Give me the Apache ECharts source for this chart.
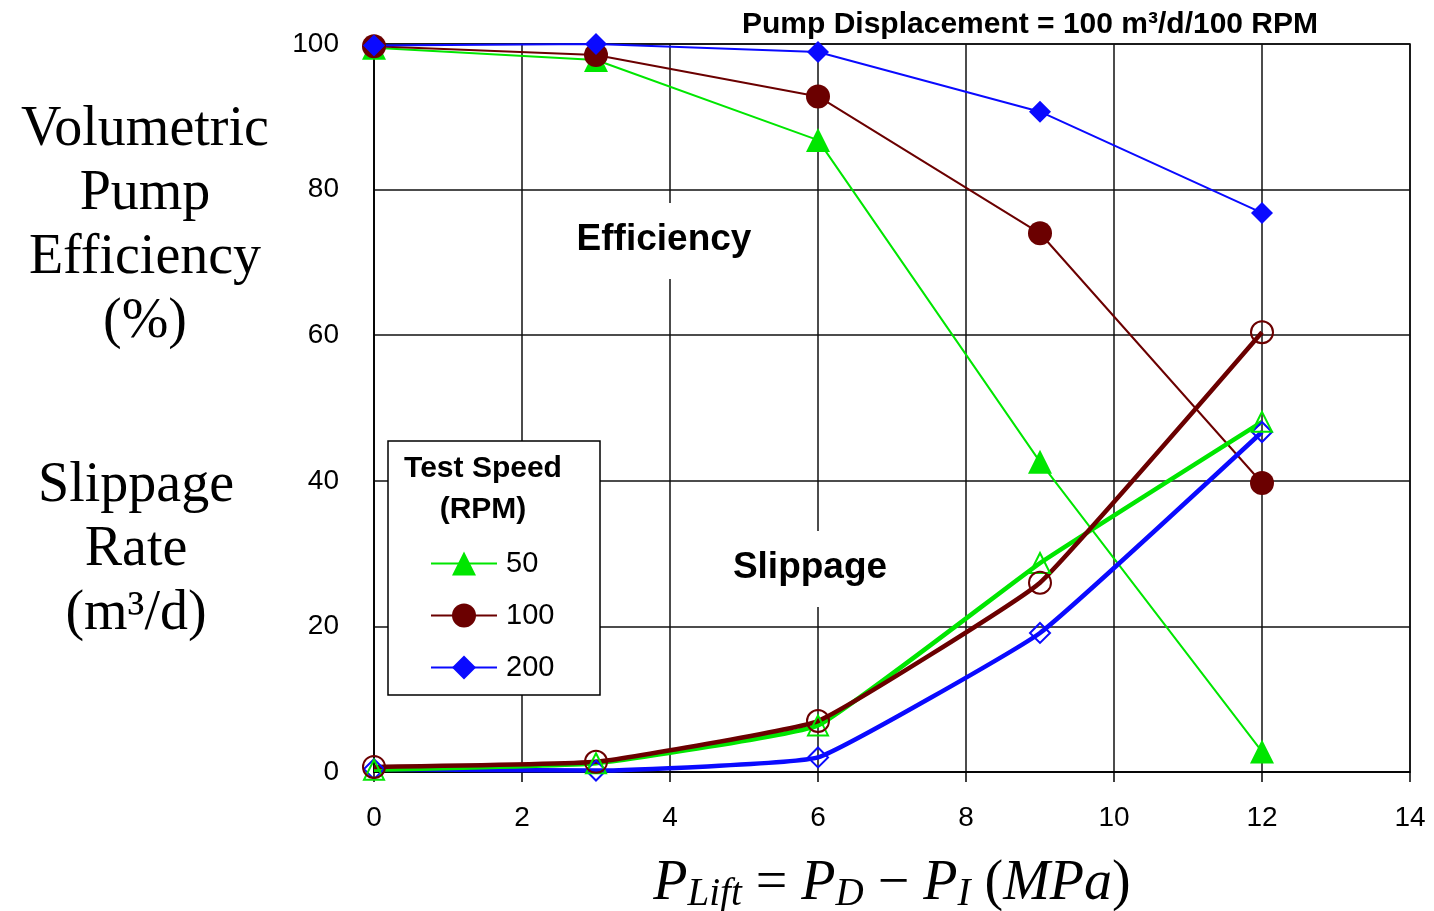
<!DOCTYPE html>
<html>
<head>
<meta charset="utf-8">
<title>Pump efficiency and slippage</title>
<script src="https://cdn.jsdelivr.net/npm/echarts@6/dist/echarts.min.js"></script>
<style>
  html, body { margin: 0; padding: 0; background: #fff; }
  #chart { width: 1434px; height: 911px; }
</style>
</head>
<body>
<div id="chart"></div>
<script>
// lift pressure (MPa)
var pressure = [0, 3, 6, 9, 12];
// volumetric efficiency (%)
var effRpm50  = [99.5, 97.8, 86.8, 42.6, 2.8];
var effRpm100 = [99.7, 98.5, 92.8, 74.0, 39.7];
var effRpm200 = [99.8, 100, 98.9, 90.7, 76.8];
// slippage rate (m3/d)
var slipRpm50  = [0.3, 1.2, 6.4, 28.7, 48.1];
var slipRpm100 = [0.7, 1.4, 7.0, 26.0, 60.4];
var slipRpm200 = [0.4, 0.2, 2.0, 19.1, 46.7];

var speeds = ['50', '100', '200'];
var colors = ['#00e600', '#6b0000', '#0a0aff'];
var symbols = ['triangle', 'circle', 'diamond'];

function pairs(ys) {
    var out = [];
    for (var i = 0; i < pressure.length; i++) out.push([pressure[i], ys[i]]);
    return out;
}

function effSeries(k, ys) {
    return {
        name: speeds[k],
        type: 'line',
        data: pairs(ys),
        symbol: symbols[k],
        symbolSize: k == 2 ? 22 : 24,
        itemStyle: { color: colors[k] },
        lineStyle: { color: colors[k], width: 2 },
        z: 3
    };
}

function slipSeries(k, ys) {
    return {
        name: speeds[k],
        type: 'line',
        data: pairs(ys),
        smooth: 0.1,
        symbol: symbols[k],
        symbolSize: k == 1 ? 22 : 20,
        itemStyle: { color: 'rgba(255,255,255,0)', borderColor: colors[k], borderWidth: 2 },
        lineStyle: { color: colors[k], width: 4.5 },
        z: 3
    };
}

var chart = echarts.init(document.getElementById('chart'));
var option = {
    backgroundColor: '#fff',
    animation: false,
    textStyle: { fontFamily: 'Liberation Sans, Arial, sans-serif', color: '#000' },
    title: {
        text: 'Pump Displacement = 100 m³/d/100 RPM',
        left: 737,
        top: 5,
        textStyle: { fontSize: 30, fontWeight: 'bold', color: '#000', fontFamily: 'Liberation Sans' }
    },
    grid: {
        left: 374, right: 24, top: 44, bottom: 139,
        outerBoundsMode: 'none',
        containLabel: false,
        show: true, borderColor: '#000', borderWidth: 1.5
    },
    xAxis: {
        type: 'value',
        min: 0, max: 14, interval: 2,
        axisLine: { show: true, lineStyle: { color: '#000', width: 1.5 } },
        axisTick: { show: true, length: 10, lineStyle: { color: '#000', width: 1.5 } },
        axisLabel: { fontSize: 28, color: '#000', margin: 32 },
        splitLine: { show: true, lineStyle: { color: '#111', width: 1.5 } },
        name: '{i|P}{s|Lift}{n| = }{i|P}{s|D}{n| − }{i|P}{s|I}{n| (}{i|MPa}{n|)}',
        nameLocation: 'middle',
        nameGap: 82,
        nameTextStyle: {
            rich: {
                i: { fontFamily: 'Liberation Serif', fontStyle: 'italic', fontSize: 56, lineHeight: 60, color: '#000' },
                n: { fontFamily: 'Liberation Serif', fontSize: 56, lineHeight: 60, color: '#000' },
                s: { fontFamily: 'Liberation Serif', fontStyle: 'italic', fontSize: 39, lineHeight: 30, verticalAlign: 'bottom', color: '#000' }
            }
        }
    },
    yAxis: {
        type: 'value',
        min: 0, max: 100, interval: 20,
        axisLine: { show: true, lineStyle: { color: '#000', width: 1.5 } },
        axisTick: { show: false },
        axisLabel: { fontSize: 28, color: '#000', margin: 35 },
        splitLine: { show: true, lineStyle: { color: '#111', width: 1.5 } }
    },
    legend: {
        data: speeds,
        orient: 'vertical',
        left: 430,
        top: 549,
        padding: 0,
        itemWidth: 66,
        itemHeight: 30,
        itemGap: 23,
        textStyle: { fontSize: 29, color: '#000', padding: [0, 0, 0, 4] },
        selectedMode: false,
        z: 60
    },
    graphic: [
        {
            type: 'rect', z: 50,
            shape: { x: 388, y: 441, width: 212, height: 254 },
            style: { fill: '#fff', stroke: '#000', lineWidth: 1.5 }
        },
        {
            type: 'text', z: 55, x: 483, y: 448,
            style: {
                text: 'Test Speed\n(RPM)', fill: '#000', align: 'center',
                font: 'bold 30px "Liberation Sans", Arial', lineHeight: 41
            }
        },
        {
            type: 'rect', z: 40,
            shape: { x: 570, y: 203, width: 190, height: 76 },
            style: { fill: '#fff' }
        },
        {
            type: 'text', z: 45, x: 664, y: 240,
            style: {
                text: 'Efficiency', fill: '#000', align: 'center', verticalAlign: 'middle',
                font: 'bold 37px "Liberation Sans", Arial'
            }
        },
        {
            type: 'rect', z: 40,
            shape: { x: 726, y: 531, width: 168, height: 76 },
            style: { fill: '#fff' }
        },
        {
            type: 'text', z: 45, x: 810, y: 568,
            style: {
                text: 'Slippage', fill: '#000', align: 'center', verticalAlign: 'middle',
                font: 'bold 37px "Liberation Sans", Arial'
            }
        },
        {
            type: 'text', x: 145, y: 98,
            style: {
                text: 'Volumetric\nPump\nEfficiency\n(%)', fill: '#000', align: 'center',
                font: '56px "Liberation Serif", serif', lineHeight: 64
            }
        },
        {
            type: 'text', x: 136, y: 454,
            style: {
                text: 'Slippage\nRate\n(m³/d)', fill: '#000', align: 'center',
                font: '56px "Liberation Serif", serif', lineHeight: 64
            }
        }
    ],
    series: [
        effSeries(0, effRpm50),
        effSeries(1, effRpm100),
        effSeries(2, effRpm200),
        slipSeries(2, slipRpm200),
        slipSeries(0, slipRpm50),
        slipSeries(1, slipRpm100)
    ]
};
chart.setOption(option);
</script>
</body>
</html>
